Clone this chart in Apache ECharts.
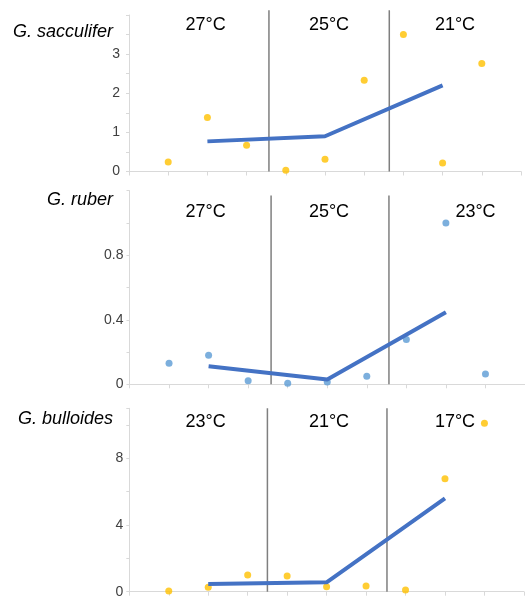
<!DOCTYPE html>
<html><head><meta charset="utf-8">
<script src="https://cdn.jsdelivr.net/npm/echarts@6/dist/echarts.min.js"></script>
<style>html,body{margin:0;padding:0;background:#fff}#c{width:525px;height:600px}</style>
</head><body><div id="c"></div>
<script>
// ---- data ----
const species = ['G. sacculifer', 'G. ruber', 'G. bulloides'];
const samplePositions = [1, 2, 3, 4, 5, 6, 7, 8, 9];
const groupCenters = [2, 5, 8];
const sacculiferValues = [0.24, 1.38, 0.67, 0.03, 0.31, 2.33, 3.5, 0.22, 2.76];
const sacculiferMeans = [0.77, 0.9, 2.2];
const sacculiferTemps = ['27°C', '25°C', '21°C'];
const ruberValues = [0.13, 0.18, 0.022, 0.006, 0.014, 0.05, 0.277, 1.0, 0.064];
const ruberMeans = [0.112, 0.03, 0.447];
const ruberTemps = ['27°C', '25°C', '23°C'];
const bulloidesValues = [0.04, 0.26, 1.0, 0.94, 0.3, 0.34, 0.1, 6.78, 10.1];
const bulloidesMeans = [0.46, 0.56, 5.6];
const bulloidesTemps = ['23°C', '21°C', '17°C'];
const sacculiferTickLabels = ['0', '1', '2', '3'];
const ruberTickLabels = ['0', '0.4', '0.8'];
const bulloidesTickLabels = ['0', '4', '8'];
const yMax = [4, 1.2, 11];
const yTickStep = [0.5, 0.2, 2];
const xMax = 10;
const dividerX = [[3.57, 6.64], [3.58, 6.56], [3.5, 6.53]];
const dividerTop = [4.12, 1.17, 11];

const panels = [
  { values: sacculiferValues, means: sacculiferMeans, temps: sacculiferTemps, labels: sacculiferTickLabels },
  { values: ruberValues, means: ruberMeans, temps: ruberTemps, labels: ruberTickLabels },
  { values: bulloidesValues, means: bulloidesMeans, temps: bulloidesTemps, labels: bulloidesTickLabels }
];

// ---- layout / style ----
const grids = [
  { left: 129, top: 15, width: 392, height: 156.5 },
  { left: 129.5, top: 190.7, width: 398, height: 193.6 },
  { left: 129.3, top: 408.3, width: 394.6, height: 183.4 }
];
const labelMargins = [9, 6, 6];
const dotColors = ['#FFC000', '#5B9BD5', '#FFC000'];
const speciesPos = [{ x: 113, y: 32 }, { x: 113, y: 200 }, { x: 113, y: 419 }];
const tempPos = [
  [{ x: 205.7, y: 25 }, { x: 329, y: 25 }, { x: 455, y: 25 }],
  [{ x: 205.7, y: 211.7 }, { x: 329, y: 211.7 }, { x: 475.5, y: 211.7 }],
  [{ x: 205.7, y: 422.3 }, { x: 329, y: 422.3 }, { x: 455, y: 422.3 }]
];
const axisGray = '#D9D9D9';
const FONT = '"Liberation Sans", Arial, sans-serif';

const xAxis = [], yAxis = [], series = [], graphic = [];
panels.forEach((p, i) => {
  xAxis.push({
    type: 'value', gridIndex: i, min: 0, max: xMax, interval: 1,
    axisLine: { show: true, lineStyle: { color: axisGray, width: 1 } },
    axisTick: { show: true, length: 4, inside: false, lineStyle: { color: axisGray } },
    axisLabel: { show: false }, splitLine: { show: false }
  });
  yAxis.push({
    type: 'value', gridIndex: i, min: 0, max: yMax[i], interval: yTickStep[i],
    axisLine: { show: true, lineStyle: { color: axisGray, width: 1 } },
    axisTick: { show: true, length: 3, inside: false, lineStyle: { color: axisGray } },
    splitLine: { show: false },
    axisLabel: {
      margin: labelMargins[i], color: '#404040', fontSize: 14, fontFamily: FONT,
      showMaxLabel: true,
      formatter: v => { const s = String(+v.toFixed(6)); return p.labels.includes(s) ? s : ''; }
    }
  });
  dividerX[i].forEach(dx => {
    series.push({
      type: 'line', xAxisIndex: i, yAxisIndex: i, clip: false, silent: true,
      symbol: 'none', data: [[dx, 0], [dx, dividerTop[i]]],
      lineStyle: { color: '#7F7F7F', width: 1.5 }, z: 1
    });
  });
  series.push({
    type: 'scatter', xAxisIndex: i, yAxisIndex: i, symbolSize: 7,
    data: samplePositions.map((x, k) => [x, p.values[k]]),
    itemStyle: { color: dotColors[i] }, z: 2
  });
  series.push({
    type: 'line', xAxisIndex: i, yAxisIndex: i, symbol: 'none',
    data: groupCenters.map((x, k) => [x, p.means[k]]),
    lineStyle: { color: '#4472C4', width: 4 }, z: 3
  });
  graphic.push({
    type: 'text', x: speciesPos[i].x, y: speciesPos[i].y,
    style: { text: species[i], font: 'italic 18px ' + FONT, fill: '#000', align: 'right', verticalAlign: 'middle' }
  });
  p.temps.forEach((t, k) => {
    graphic.push({
      type: 'text', x: tempPos[i][k].x, y: tempPos[i][k].y,
      style: { text: t, font: '18px ' + FONT, fill: '#000', align: 'center', verticalAlign: 'middle' }
    });
  });
});

const chart = echarts.init(document.getElementById('c'), null, { renderer: 'canvas' });
chart.setOption({
  animation: false,
  backgroundColor: '#fff',
  grid: grids.map(g => Object.assign({ containLabel: false }, g)),
  xAxis, yAxis, series, graphic
});
</script></body></html>
